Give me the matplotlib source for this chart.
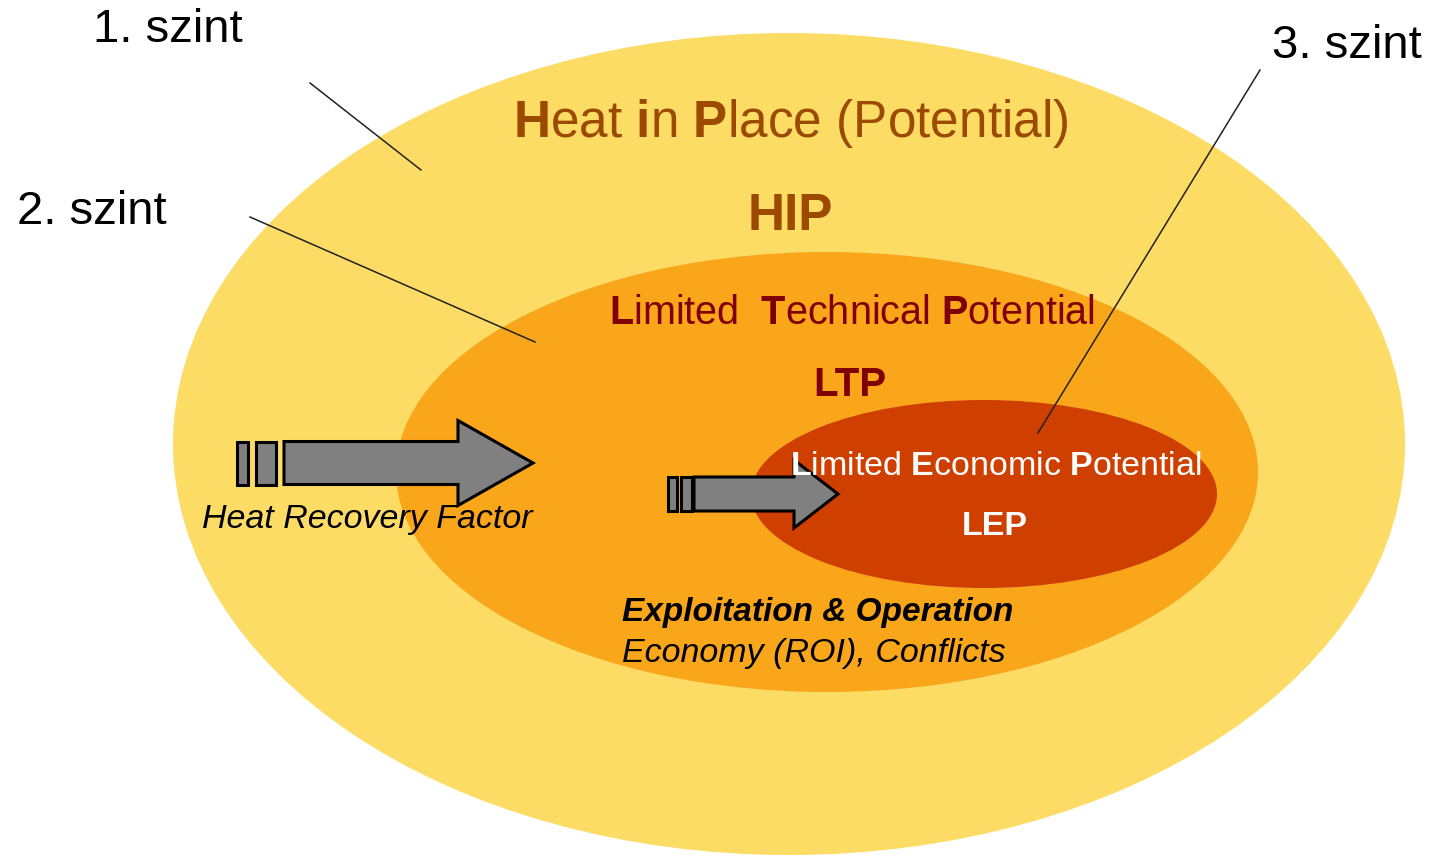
import matplotlib
matplotlib.use("Agg")
import matplotlib.pyplot as plt
from matplotlib.patches import Ellipse, Polygon, Rectangle

plt.rcParams['font.family'] = ['Liberation Sans', 'DejaVu Sans']
plt.rcParams['mathtext.fontset'] = 'custom'
plt.rcParams['mathtext.rm'] = 'Liberation Sans'
plt.rcParams['mathtext.bf'] = 'Liberation Sans:bold'
plt.rcParams['mathtext.it'] = 'Liberation Sans:italic'

# levels: (center x, center y, width, height, colour)
levels = [
    (789, 444, 1232, 822, '#FDDC66'),
    (827, 472, 862, 440, '#F9A61B'),
    (984, 494, 466, 188, '#CF3F00'),
]

level_labels = ['1. szint', '2. szint', '3. szint']
label_pos = [(168, 30), (92, 212), (1347, 46)]
leader_lines = [((310, 83), (421, 170)), ((250, 217), (535, 342)), ((1260, 70), (1038, 433))]

fig = plt.figure(figsize=(14.31, 8.55), dpi=100)
ax = fig.add_axes([0, 0, 1, 1])
ax.set_xlim(0, 1431)
ax.set_ylim(855, 0)
ax.axis('off')

for cx, cy, w, h, col in levels:
    ax.add_patch(Ellipse((cx, cy), w, h, facecolor=col, edgecolor='none'))


def block_arrow(x1, xh, tip, yc, body_h, head_h, bars):
    for bx0, bx1 in bars:
        ax.add_patch(Rectangle((bx0, yc - body_h / 2), bx1 - bx0, body_h,
                               facecolor='#808080', edgecolor='black', lw=2.2))
    pts = [(x1, yc - body_h / 2), (xh, yc - body_h / 2), (xh, yc - head_h / 2),
           (tip, yc), (xh, yc + head_h / 2), (xh, yc + body_h / 2), (x1, yc + body_h / 2)]
    ax.add_patch(Polygon(pts, closed=True, facecolor='#808080', edgecolor='black',
                         lw=2.2, joinstyle='miter'))


block_arrow(284, 458, 533, 463, 43, 85, [(237, 248), (256, 276)])
block_arrow(694, 794, 838, 494, 34, 68, [(668, 677), (681, 692)])

# titles
ax.text(791, 124, r'$\mathbf{H}\mathrm{eat\ }\mathbf{i}\mathrm{n\ }\mathbf{P}\mathrm{lace\ (Potential)}$',
        fontsize=37, color='#9C4A00', ha='center', va='center')
ax.text(790, 216, 'HIP', fontsize=37, fontweight='bold', color='#9C4A00', ha='center', va='center')

ax.text(852, 313, r'$\mathbf{L}\mathrm{imited\ \ }\mathbf{T}\mathrm{echnical\ }\mathbf{P}\mathrm{otential}$',
        fontsize=28.5, color='#800000', ha='center', va='center')
ax.text(850, 385, 'LTP', fontsize=29, fontweight='bold', color='#800000', ha='center', va='center')

ax.text(996, 466, r'$\mathbf{L}\mathrm{imited\ }\mathbf{E}\mathrm{conomic\ }\mathbf{P}\mathrm{otential}$',
        fontsize=24.5, color='white', ha='center', va='center')
ax.text(995, 526, 'LEP', fontsize=24.5, fontweight='bold', color='white', ha='center', va='center')

ax.text(367, 519, 'Heat Recovery Factor', fontsize=24.5, style='italic', color='black',
        ha='center', va='center')
ax.text(622, 612, 'Exploitation & Operation', fontsize=24, style='italic', fontweight='bold',
        color='black', ha='left', va='center')
ax.text(622, 653, 'Economy (ROI), Conflicts', fontsize=24.5, style='italic', color='black',
        ha='left', va='center')

for lab, (x, y) in zip(level_labels, label_pos):
    ax.text(x, y, lab, fontsize=34, color='black', ha='center', va='center')

for (xa, ya), (xb, yb) in leader_lines:
    ax.plot([xa, xb], [ya, yb], color='#222222', lw=1.1)

fig.savefig('out.png', dpi=100)
